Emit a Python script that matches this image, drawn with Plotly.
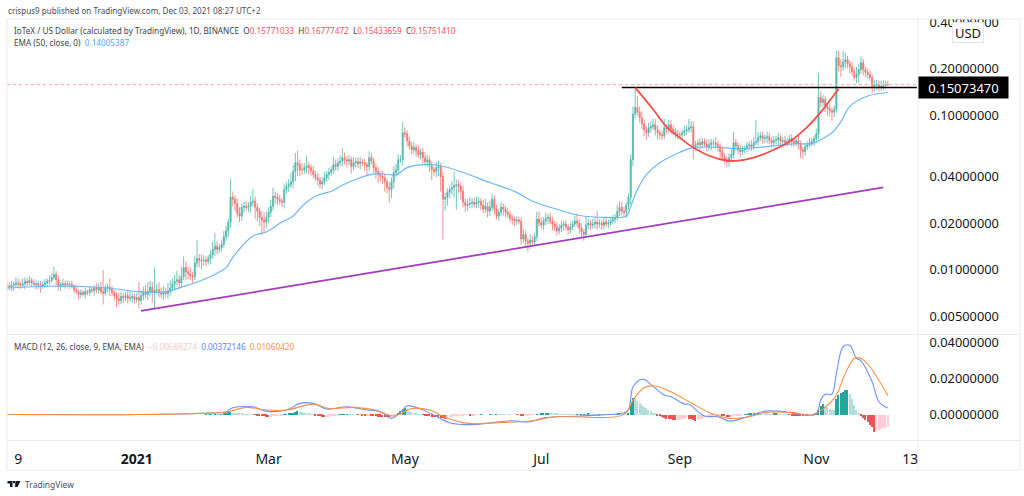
#!/usr/bin/env python3
# IOTX/USD daily chart, EMA and MACD panes
import math

import pandas as pd
import plotly.graph_objects as go

# closes, one row per month
closes = [
    .0078,.0077,.0079,.0080,.0082,.0081,.0079,.0081,.0084,.0082,.0085,.0082,.0080,.0081,.0079,.0078,.0080,.0082,.0084,.0085,.0089,.0093,.0086,.0078,.0080,.0081,.0080,
    .0081,.0080,.0078,.0074,.0072,.0069,.0071,.0069,.0072,.0071,.0074,.0073,.0076,.0074,.0077,.0072,.0070,.0076,.0077,.0074,.0071,.0068,.0065,.0063,.0067,.0066,.0068,.0065,.0066,.0067,.0064,
    .0066,.0063,.0068,.0071,.0069,.0072,.0077,.0071,.0074,.0074,.0071,.0069,.0071,.0070,.0072,.0076,.0081,.0084,.0086,.0082,.0090,.0103,.0097,.0094,.0091,.0090,.0110,.0118,.0115,.0114,.0115,
    .0113,.0118,.0125,.0135,.0142,.0135,.0139,.0146,.0163,.0178,.0203,.0294,.0285,.0268,.0232,.0222,.0253,.0257,.0253,.0257,.0273,.0277,.0253,.0239,.0218,.0209,.0203,.0218,
    .0235,.0257,.0298,.0294,.0285,.0277,.0273,.0330,.0346,.0355,.0370,.0432,.0491,.0478,.0443,.0443,.0457,.0470,.0457,.0436,.0412,.0393,.0380,.0358,.0370,.0393,.0412,.0425,.0443,.0478,.0464,
    .0491,.0505,.0530,.0514,.0505,.0514,.0464,.0491,.0498,.0485,.0498,.0491,.0478,.0464,.0530,.0505,.0457,.0432,.0412,.0400,.0393,.0370,.0340,.0330,.0370,.0425,.0443,.0514,.0514,.0768,
    .0758,.0680,.0630,.0597,.0616,.0588,.0554,.0575,.0530,.0498,.0514,.0470,.0443,.0432,.0457,.0464,.0400,.0285,.0294,.0316,.0330,.0340,.0350,.0355,.0346,.0322,.0273,.0260,.0265,.0268,.0273,
    .0265,.0273,.0277,.0261,.0246,.0257,.0239,.0253,.0285,.0246,.0222,.0235,.0253,.0246,.0235,.0227,.0215,.0212,.0206,.0209,.0206,.0158,.0169,.0153,.0148,.0155,.0151,.0163,.0212,.0200,
    .0194,.0206,.0215,.0218,.0206,.0197,.0189,.0178,.0186,.0194,.0197,.0189,.0181,.0189,.0197,.0206,.0200,.0186,.0175,.0169,.0194,.0200,.0194,.0197,.0203,.0197,.0200,.0194,.0203,.0197,.0200,
    .0206,.0212,.0218,.0239,.0253,.0239,.0235,.0261,.0294,.0514,.1015,.1120,.1045,.0962,.0880,.0803,.0768,.0828,.0840,.0865,.0803,.0768,.0745,.0735,.0828,.0815,.0865,.0815,.0780,.0756,.0745,
    .0745,.0768,.0791,.0803,.0828,.0840,.0625,.0643,.0663,.0643,.0674,.0653,.0625,.0643,.0663,.0663,.0643,.0625,.0580,.0535,.0514,.0498,.0530,.0554,.0663,.0633,.0597,.0580,.0597,.0606,
    .0633,.0643,.0625,.0663,.0674,.0713,.0735,.0703,.0713,.0724,.0684,.0663,.0684,.0692,.0713,.0674,.0684,.0663,.0674,.0703,.0674,.0663,.0684,.0653,.0597,.0580,.0625,.0643,.0663,.0674,.0703,
    .0756,.1303,.1207,.1265,.1145,.1105,.1065,.1045,.1090,.2353,.2089,.2060,.2205,.2280,.2153,.2060,.1910,.1750,.1830,.1970,.2185,.1970,.1890,.1830,.1750,.1535,.1560,.1580,.1510,.1535,
    .1560,.1577,.15751,
]
# wick length above and below the body, percent of the price
wick_up = [
    8,6,7,5,9,6,4,8,6,5,7,4,6,5,3,7,5,6,4,8,7,12,5,6,4,8,5,
    5,4,6,3,7,3,5,4,6,3,5,6,4,7,6,8,38,5,6,14,6,4,5,9,7,6,5,8,10,6,5,
    7,26,8,9,12,15,10,8,40,9,12,8,10,7,14,12,8,10,14,8,16,18,10,8,10,6,12,32,7,9,8,
    6,5,7,12,22,8,6,7,9,8,6,32,9,6,8,9,6,7,8,6,10,20,7,6,5,10,12,9,
    8,10,14,7,6,7,5,8,6,9,14,10,16,20,8,10,7,16,6,5,7,6,8,5,7,9,6,7,5,12,8,
    7,9,15,8,6,7,5,9,6,7,8,5,6,4,10,7,5,6,7,5,9,6,5,8,7,10,9,8,7,18,
    8,5,7,6,9,5,8,6,7,9,8,6,7,5,10,9,6,8,7,6,5,10,22,8,7,6,9,5,8,10,6,
    7,9,6,5,8,12,6,10,9,6,7,5,8,6,5,7,6,5,4,6,5,6,8,6,5,9,7,6,12,12,
    8,6,9,5,7,6,5,8,6,7,5,6,4,7,6,8,12,6,7,5,14,6,5,8,7,18,6,5,7,8,6,
    6,7,5,10,9,8,7,5,6,8,12,32,18,9,10,7,6,8,9,10,9,7,5,6,14,6,8,7,6,5,6,
    6,5,8,7,14,9,8,6,5,7,6,5,7,8,6,5,9,6,5,7,6,5,7,8,17,6,5,7,6,5,
    6,5,7,8,38,9,6,7,5,8,6,5,7,6,8,5,6,7,5,6,7,5,6,8,5,4,6,5,7,6,5,
    8,44,9,7,5,6,8,5,6,11,12,10,18,11,6,5,8,6,12,9,10,6,5,7,6,5,8,7,6,9,
    8,6,6,
]
wick_down = [
    5,4,6,8,4,7,5,3,8,5,4,6,3,7,5,9,4,3,6,5,4,3,8,6,7,4,6,
    4,6,3,5,4,7,5,3,6,4,5,3,7,5,6,4,15,3,6,9,5,7,12,6,5,8,6,7,5,8,6,
    5,11,6,7,5,8,6,14,21,6,7,5,8,6,7,6,5,8,6,9,7,5,12,8,6,9,5,6,10,12,7,
    7,5,8,6,9,7,5,6,5,6,9,8,10,11,6,9,7,8,5,7,9,6,16,14,12,20,14,8,
    8,7,6,9,8,5,7,9,6,8,5,9,14,16,9,7,6,8,10,7,6,5,8,6,7,5,6,8,5,7,6,
    6,5,8,7,9,6,10,5,7,6,8,5,9,12,6,5,8,10,12,7,9,14,8,18,12,9,6,8,5,8,
    6,8,5,7,6,9,5,7,8,6,7,9,14,6,8,12,20,45,16,12,9,8,14,30,10,12,7,9,8,6,7,
    5,6,8,7,6,5,9,7,6,8,5,7,6,9,7,5,6,8,7,6,4,8,6,10,12,8,6,7,6,5,
    5,7,6,8,5,9,6,7,5,6,8,5,7,6,5,4,6,8,7,9,5,6,7,5,6,8,5,7,6,5,6,
    5,4,6,5,7,6,5,8,6,10,9,6,5,7,8,9,10,6,7,5,8,9,7,6,5,7,6,8,5,6,7,
    6,7,5,6,4,7,17,6,5,7,6,5,7,6,8,5,6,7,9,5,6,8,7,6,5,7,6,8,5,6,
    5,7,6,5,4,6,5,7,6,8,5,6,4,5,7,6,5,4,6,5,7,6,5,8,12,10,6,5,4,5,6,
    6,8,7,6,9,10,8,12,7,5,8,14,6,9,7,10,6,5,8,12,6,8,7,6,5,9,8,7,6,5,
    6,5,2,
]

ema_dates = ["2020-11-04","2020-11-23","2020-12-05","2020-12-19","2021-01-02","2021-01-14","2021-01-21","2021-01-29",
             "2021-02-10","2021-02-13","2021-02-22","2021-02-28","2021-03-07","2021-03-12","2021-03-16","2021-03-22",
             "2021-03-30","2021-04-02","2021-04-11","2021-04-18","2021-04-27","2021-05-02","2021-05-09","2021-05-17",
             "2021-05-27","2021-06-08","2021-06-20","2021-06-27","2021-07-08","2021-07-18","2021-07-30","2021-08-08",
             "2021-08-10","2021-08-13","2021-08-17","2021-08-23","2021-09-01","2021-09-07","2021-09-20","2021-09-26",
             "2021-10-05","2021-10-13","2021-10-23","2021-10-30","2021-11-03","2021-11-08","2021-11-12","2021-11-16",
             "2021-11-24","2021-12-03"]
ema_values = [.0076,.0078,.0078,.0076,.0072,.0072,.0077,.0084,.0103,.0120,.0165,.0175,.0203,.0222,.0257,.0298,
              .0325,.0346,.0393,.0418,.0412,.0457,.0478,.0470,.0425,.0366,.0316,.0277,.0246,.0224,.0218,.0222,
              .0257,.0330,.0412,.0491,.0575,.0616,.0616,.0606,.0616,.0633,.0653,.0653,.0692,.0768,.0905,.1140,
              .1330,.14005387]

trend_dates = ["2021-01-03", "2021-12-01"]
trend_values = [.0054, .0340]
resistance_dates = ["2021-08-06", "2021-12-16"]
resistance_values = [.15073470, .15073470]
cup_dates = ["2021-08-12","2021-08-20","2021-08-26","2021-09-01","2021-09-07","2021-09-13","2021-09-20","2021-09-26",
             "2021-10-04","2021-10-13","2021-10-20","2021-10-28","2021-11-03","2021-11-11"]
cup_values = [.1507,.1090,.0840,.0713,.0616,.0554,.0514,.0505,.0530,.0597,.0673,.0840,.1045,.1480]

macd_dates = ["2020-11-04","2020-12-15","2021-01-02","2021-01-29","2021-02-10","2021-02-13","2021-02-22","2021-02-28",
              "2021-03-09","2021-03-15","2021-03-21","2021-03-27","2021-04-05","2021-04-14","2021-04-20","2021-04-25",
              "2021-04-30","2021-05-02","2021-05-08","2021-05-13","2021-05-21","2021-05-31","2021-06-09","2021-06-18",
              "2021-06-25","2021-07-03","2021-07-18","2021-08-07","2021-08-09","2021-08-11","2021-08-14","2021-08-16",
              "2021-08-19","2021-08-25","2021-08-28","2021-09-03","2021-09-05","2021-09-12","2021-09-18","2021-09-23",
              "2021-09-30","2021-10-09","2021-10-15","2021-10-26","2021-11-01","2021-11-03","2021-11-05","2021-11-08",
              "2021-11-10","2021-11-13","2021-11-16","2021-11-19","2021-11-21","2021-11-26","2021-11-29","2021-12-03"]
macd_values = [.0001,0,.0001,.0008,.0017,.0039,.0044,.0020,.0026,.0063,.0063,.0032,.0044,.0026,.0017,-.0020,
               .0026,.0050,.0032,.0004,-.0044,-.0055,-.0044,-.0033,-.0040,-.0016,-.0007,.0011,.0026,.0155,.0192,.0196,
               .0168,.0109,.0100,.0059,.0058,-.0007,-.0011,-.0035,-.0016,.0020,.0020,.0002,.0004,.0081,.0113,.0115,
               .0229,.0377,.0385,.0312,.0299,.0183,.0072,.00372146]
signal_dates = ["2020-11-04","2020-12-15","2021-01-02","2021-01-29","2021-02-10","2021-02-19","2021-02-28","2021-03-09",
                "2021-03-21","2021-03-28","2021-04-08","2021-04-18","2021-04-26","2021-05-04","2021-05-12","2021-05-20",
                "2021-05-29","2021-06-12","2021-06-27","2021-07-07","2021-08-07","2021-08-11","2021-08-16","2021-08-21",
                "2021-08-28","2021-09-06","2021-09-14","2021-09-23","2021-10-02","2021-10-09","2021-10-21","2021-10-30",
                "2021-11-09","2021-11-14","2021-11-18","2021-11-21","2021-11-25","2021-12-03"]
signal_values = [.0001,0,.0001,.0007,.0015,.0041,.0026,.0026,.0059,.0035,.0041,.0026,-.0007,.0035,.0026,-.0020,
                 -.0048,-.0044,-.0033,-.0011,.0002,.0081,.0150,.0159,.0127,.0066,.0013,-.0020,-.0011,.0013,.0013,0,
                 .0091,.0229,.0312,.0312,.0266,.01060420]

# histogram from 2021-02-01, in units of 0.0001
hist_values = [
    1,1,2,2,3,3,3,4,6,10,13,14,12,10,8,6,5,4,3,2,1,1,-1,-2,-4,-6,-8,-10,
    -12,-10,-8,-6,-5,-3,-2,1,3,6,9,12,16,18,16,14,12,8,5,3,1,-2,-4,-8,-11,-13,-12,-10,-8,-6,-5,
    -2,1,2,3,4,3,2,1,1,-1,-1,-2,-3,-3,-2,-4,-6,-8,-10,-11,-12,-13,-14,-15,-14,-10,-4,6,18,30,
    36,30,22,16,10,5,2,1,-1,-3,-5,-8,-10,-12,-14,-15,-17,-20,-22,-18,-14,-10,-7,-5,-4,-3,-2,-1,-1,-2,-2,
    -2,-1,-1,1,1,0,0,1,1,1,2,2,2,1,1,1,1,0,0,-1,-1,-2,-3,-2,-2,-1,-1,-1,1,1,
    8,10,11,12,11,10,8,6,4,3,2,2,1,1,1,1,2,2,3,4,4,5,5,4,3,3,4,4,4,4,3,
    3,3,3,4,5,5,4,4,8,70,94,92,75,65,55,45,35,28,20,12,5,-2,-8,-14,-18,-22,-24,-26,-28,-30,-30,
    -28,-25,-22,-20,-22,-26,-30,-32,-30,-26,-22,-18,-14,-10,-8,-6,-6,-5,-5,-6,-8,-12,-14,-12,-8,-4,-3,-2,-1,1,
    3,5,6,8,8,9,7,6,6,5,4,4,5,6,5,4,3,2,1,-1,-2,-3,-4,-5,-6,-7,-6,-7,-5,-3,-1,
    4,28,48,58,50,42,34,28,25,90,110,120,128,135,137,115,85,55,25,5,-8,-18,-28,-40,-55,-70,-94,-90,-85,-80,
    -75,-72,-69,
]

price_ticks = [.4, .2, .1, .04, .02, .01, .005]
macd_ticks = [.04, .02, 0]
time_ticks = ["2020-11-09", "2021-01-01", "2021-03-01", "2021-05-01", "2021-07-01", "2021-09-01", "2021-11-01", "2021-12-13"]
time_labels = ["9", "<b>2021</b>", "Mar", "May", "Jul", "Sep", "Nov", "13"]

W, H = 1024, 496
FONT = "Noto Sans"
TEXT = "#131722"
UP, DOWN = "#26a69a", "#ef5350"
BORDER = "#e8eaef"


def px(x):
    return x / W


def py(y):
    return 1 - y / H


dates = pd.date_range("2020-11-04", periods=len(closes), freq="D")
opens = [.0077] + closes[:-1]
opens[-1] = .15771033
highs = [max(o, c) * (1 + u / 100) for o, c, u in zip(opens, closes, wick_up)]
lows = [min(o, c) * (1 - d / 100) for o, c, d in zip(opens, closes, wick_down)]

hist_dates = pd.date_range("2021-02-01", periods=len(hist_values), freq="D")
hist = [v / 10000 for v in hist_values]
hist_colors = []
for i, v in enumerate(hist):
    prev = hist[i - 1] if i else 0
    if v >= 0:
        hist_colors.append(UP if v > prev else "#b2dfdb")
    else:
        hist_colors.append(DOWN if v < prev else "#ffcdd2")

fig = go.Figure()
fig.add_trace(go.Scatter(x=[dates[0], "2021-12-16"], y=[closes[-1], closes[-1]], mode="lines",
                         line=dict(color="#f9a8a8", width=1, dash="dot")))
fig.add_trace(go.Candlestick(x=dates, open=opens, high=highs, low=lows, close=closes, whiskerwidth=0,
                             opacity=0.8,
                             increasing=dict(line=dict(color=UP, width=0.8), fillcolor=UP),
                             decreasing=dict(line=dict(color=DOWN, width=0.8), fillcolor=DOWN)))
fig.add_trace(go.Scatter(x=ema_dates, y=ema_values, mode="lines",
                         line=dict(color="#6db6f7", width=1.2, shape="spline")))
fig.add_trace(go.Scatter(x=trend_dates, y=trend_values, mode="lines", line=dict(color="#a23cbc", width=1.8)))
fig.add_trace(go.Scatter(x=resistance_dates, y=resistance_values, mode="lines", line=dict(color="#000000", width=1.5)))
fig.add_trace(go.Scatter(x=cup_dates, y=cup_values, mode="lines",
                         line=dict(color="#f4504a", width=1.8, shape="spline")))

fig.add_trace(go.Bar(x=hist_dates, y=hist, width=50000000, marker=dict(color=hist_colors, line_width=0), yaxis="y2"))
fig.add_trace(go.Scatter(x=macd_dates, y=macd_values, mode="lines", yaxis="y2",
                         line=dict(color="#6f90fb", width=1.1, shape="spline")))
fig.add_trace(go.Scatter(x=signal_dates, y=signal_values, mode="lines", yaxis="y2",
                         line=dict(color="#fb8f43", width=1.1, shape="spline")))

fig.update_layout(
    width=W, height=H, margin=dict(l=0, r=0, t=0, b=0),
    paper_bgcolor="white", plot_bgcolor="white", showlegend=False, hovermode=False,
    font=dict(family=FONT, color=TEXT),
    xaxis=dict(domain=[px(7), px(918)], anchor="y2", type="date", range=["2020-11-04", "2021-12-16 12:00"],
               automargin=False, tickmode="array", tickvals=time_ticks, ticktext=time_labels,
               showgrid=False, zeroline=False,
               tickfont=dict(size=14, color=TEXT), ticks="outside", ticklen=6, tickcolor="rgba(0,0,0,0)",
               rangeslider=dict(visible=False)),
    yaxis=dict(domain=[py(334), py(19)], type="log", side="right", anchor="x", automargin=False,
               range=[math.log10(.00383), math.log10(.4187)], tickmode="array", tickvals=price_ticks,
               ticktext=[f"{v:.8f}" for v in price_ticks], showgrid=False, zeroline=False,
               tickfont=dict(size=12.8, color=TEXT), ticks="outside", ticklen=8, tickcolor="rgba(0,0,0,0)"),
    yaxis2=dict(domain=[py(440), py(335)], side="right", anchor="x", range=[-.014, .0442], automargin=False,
                tickmode="array", tickvals=macd_ticks, ticktext=[f"{v:.8f}" for v in macd_ticks],
                showgrid=False, zeroline=False,
                tickfont=dict(size=12.8, color=TEXT), ticks="outside", ticklen=8, tickcolor="rgba(0,0,0,0)"),
    bargap=0,
)


def pane_line(x0, y0, x1, y1, color=BORDER):
    return dict(type="line", xref="paper", yref="paper", x0=px(x0), y0=py(y0), x1=px(x1), y1=py(y1),
                line=dict(color=color, width=1), layer="above")


def logo_part(path):
    return dict(type="path", xref="paper", yref="paper", path=path, fillcolor="#131722", line_width=0)


def logo_path(points):
    return "M" + "L".join(f"{px(x):.5f},{py(y):.5f}" for x, y in points) + "Z"


shapes = [
    # blanks the part of the top label that sticks out of the pane
    dict(type="rect", xref="paper", yref="paper", x0=px(918), x1=px(1024), y0=py(19), y1=py(12),
         fillcolor="white", line_width=0, layer="above"),
    pane_line(7, 19, 1020, 19), pane_line(7, 19, 7, 470), pane_line(7, 470, 1020, 470),
    pane_line(1020, 19, 1020, 470), pane_line(918, 19, 918, 470),
    pane_line(7, 334.5, 1020, 334.5), pane_line(7, 440.5, 1020, 440.5),
    logo_part(logo_path([(7.5, 481), (12.5, 481), (12.5, 487), (10, 487), (10, 483.5), (7.5, 483.5)])),
    logo_part(logo_path([(13, 481), (15, 481), (15, 483.2), (13, 483.2)])),
    logo_part(logo_path([(15.5, 481), (20.5, 481), (17.5, 487), (15, 487)])),
]

red = "#f7525f"
annotations = [
    dict(x=px(7), y=py(10.5), text="crispus9 published on TradingView.com, Dec 03, 2021 08:27 UTC+2",
         font=dict(size=8.1, color="#4a4e59")),
    dict(x=px(13), y=py(30), text=("IoTeX / US Dollar (calculated by TradingView), 1D, BINANCE&nbsp;&nbsp;"
                                   f"O<span style='color:{red}'>0.15771033</span>&nbsp;&nbsp;"
                                   f"H<span style='color:{red}'>0.16777472</span>&nbsp;&nbsp;"
                                   f"L<span style='color:{red}'>0.15433659</span>&nbsp;&nbsp;"
                                   f"C<span style='color:{red}'>0.15751410</span>"),
         font=dict(size=8.2, color="#3c404b")),
    dict(x=px(13), y=py(42), text="EMA (50, close, 0)&nbsp;&nbsp;<span style='color:#4fa8f5'>0.14005387</span>",
         font=dict(size=8.2, color="#3c404b")),
    dict(x=px(13), y=py(346), text=("MACD (12, 26, close, 9, EMA, EMA)&nbsp;&nbsp;"
                                    "<span style='color:#f9c9c9'>−0.00688274</span>&nbsp;&nbsp;"
                                    "<span style='color:#5b82f5'>0.00372146</span>&nbsp;&nbsp;"
                                    "<span style='color:#fb8f43'>0.01060420</span>"),
         font=dict(size=8.2, color="#3c404b")),
    dict(x=px(24), y=py(484), text="TradingView", font=dict(size=8.5, color="#4a4e59")),
]
annotations = [dict(a, xref="paper", yref="paper", xanchor="left", yanchor="middle", showarrow=False, borderpad=0)
               for a in annotations]
annotations.append(dict(xref="paper", yref="paper", x=px(967.5), y=py(32.5), text="USD", showarrow=False,
                        font=dict(size=13, color=TEXT), bgcolor="white", bordercolor="#e3e5ea", borderwidth=1,
                        width=28, height=17, xanchor="center", yanchor="middle"))
annotations.append(dict(xref="paper", yref="y", x=px(918), y=math.log10(resistance_values[0]), text="0.15073470",
                        showarrow=False, font=dict(size=13, color="white"), bgcolor="#000000", width=87, height=19,
                        xanchor="left", yanchor="middle"))
fig.update_layout(shapes=shapes, annotations=annotations)

# drop the browser's page margin so the figure sits at the window corner
pin_div = ("document.body.style.margin='0';"
           "var gd=document.getElementById('{plot_id}');"
           "gd.style.position='fixed';gd.style.left='0';gd.style.top='0';")
fig.write_html("out.html", config={"displayModeBar": False}, post_script=pin_div)
